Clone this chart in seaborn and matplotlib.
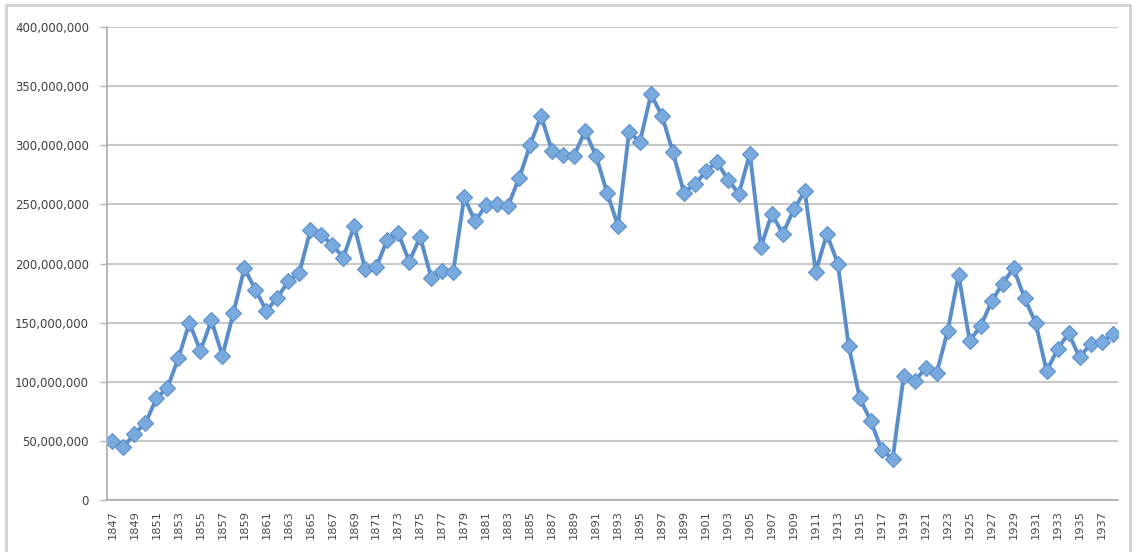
import numpy as np
import pandas as pd
import matplotlib
matplotlib.use("Agg")
import matplotlib.pyplot as plt
import matplotlib.ticker as mticker
from matplotlib.patches import Rectangle
import seaborn as sns

years = list(range(1847, 1939))
values_m = [
    50, 45, 56, 65, 86, 95, 120, 150, 126, 152,
    122, 158, 196, 178, 160, 171, 185, 192, 228, 224,
    216, 205, 232, 195, 197, 220, 226, 201.5, 222.5, 188,
    194, 192.5, 256, 235.6, 249.5, 250, 249, 272, 300, 325,
    295, 292, 291, 312, 291, 260, 232, 311, 303, 343,
    325, 294, 260, 267, 278, 286, 271, 259, 293, 214,
    242, 225, 246, 261, 193, 225, 200, 130, 86, 67,
    42, 35, 105, 100.6, 111.6, 107.5, 143, 190.5, 134.5, 147,
    168, 183, 196, 170.6, 150, 109, 127.5, 141, 120.6, 132,
    133.5, 140,
]

df = pd.DataFrame({
    'pos': np.arange(len(years)),
    'year': years,
    'value': np.array(values_m) * 1e6,
})

sns.set_style("white")
plt.rcParams['font.family'] = ['DejaVu Sans']

fig = plt.figure(figsize=(11.33, 5.52), dpi=100)
ax = fig.add_axes([107 / 1133, 52 / 552, (1118 - 107) / 1133, (500 - 27) / 552])

# outer chart frame
fig.patches.append(Rectangle((6 / 1133, -0.05), (1130 - 6) / 1133, 1.05 - 5 / 552,
                             transform=fig.transFigure, fill=False,
                             edgecolor='#d2d2d2', linewidth=2.0))

sns.lineplot(data=df, x='pos', y='value', ax=ax, color='#5a8ecb', linewidth=2.8,
             marker='D', markersize=8.2, markerfacecolor='#78aade',
             markeredgecolor='#5b8fcc', markeredgewidth=0.8)

ax.set_xlim(-0.5, len(years) - 0.5)
ax.set_ylim(0, 400_000_000)
ax.yaxis.set_major_locator(mticker.MultipleLocator(50_000_000))
ax.yaxis.set_major_formatter(mticker.FuncFormatter(lambda v, p: f"{int(v):,}"))
ax.grid(axis='y', color='#c8c8c8', linewidth=1.5)
ax.set_axisbelow(True)

ax.set_xticks(df['pos'][::2])
ax.set_xticklabels([str(y) for y in years[::2]], rotation=90)
ax.set_xticks(np.arange(-0.5, len(years)), minor=True)
ax.tick_params(axis='x', which='major', length=0, pad=7, labelsize=8.2, labelcolor='#4a4a4a')
ax.tick_params(axis='x', which='minor', length=4, width=1, color='#b5b5b5', direction='out')
ax.tick_params(axis='y', length=5, width=1, color='#b5b5b5', labelsize=8.5,
               labelcolor='#404040', pad=8)
ax.tick_params(axis='both', bottom=True, left=True)

for side in ['top', 'right']:
    ax.spines[side].set_visible(False)
for side in ['left', 'bottom']:
    ax.spines[side].set_color('#acacac')
    ax.spines[side].set_linewidth(1.2)

ax.set_xlabel('')
ax.set_ylabel('')

fig.savefig('out.png', dpi=100)
